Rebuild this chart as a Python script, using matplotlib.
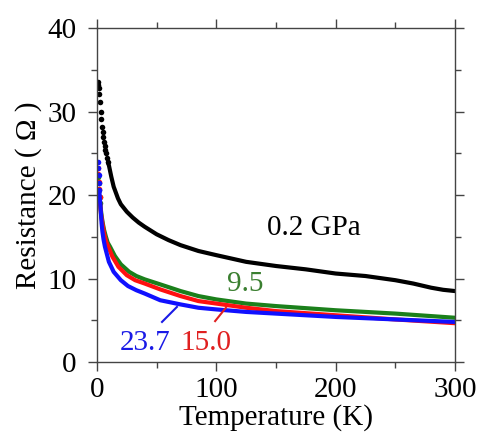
import numpy as np
import matplotlib
matplotlib.use("Agg")
import matplotlib.pyplot as plt
from matplotlib.ticker import MultipleLocator

plt.rcParams["font.family"] = ["Liberation Serif", "DejaVu Serif"]

# R(T) under pressure; steep low-T part is sparse dots, the rest a continuous trace
T_02 = [0.6, 1.1, 1.3, 1.7, 2.3, 3.1, 3.6, 4.2, 4.8, 5.3, 5.9, 6.5, 6.9, 7.5, 8.4, 9.2, 10.1,
        12, 14, 17.6, 20, 25, 30, 35, 40, 50, 60, 70, 85, 100, 125, 150, 175, 200, 225, 250,
        265, 280, 290, 300]
R_02 = [33.6, 33.2, 32.8, 32.1, 31.1, 30.0, 29.1, 28.2, 27.6, 27.0, 26.4, 25.9, 25.4, 25.0,
        24.4, 23.9, 23.5, 22.2, 21.0, 19.6, 18.9, 18.0, 17.3, 16.7, 16.2, 15.3, 14.6, 14.0,
        13.3, 12.8, 12.0, 11.5, 11.1, 10.6, 10.3, 9.8, 9.4, 8.9, 8.65, 8.5]

T_95 = [1.2, 1.5, 1.8, 2.2, 2.7, 3.3, 4.0, 4.9, 6, 7.5, 9, 11, 15, 20, 27, 33, 40, 53, 70,
        85, 100, 125, 150, 200, 250, 300]
R_95 = [22.2, 21.4, 20.6, 19.8, 19.0, 18.2, 17.4, 16.6, 15.8, 15.0, 14.3, 13.8, 12.7, 11.7,
        10.8, 10.3, 9.9, 9.3, 8.5, 7.9, 7.5, 7.0, 6.7, 6.2, 5.8, 5.3]

T_150 = [1.0, 1.2, 1.5, 1.8, 2.2, 2.7, 3.2, 3.9, 4.8, 6, 7.5, 9.5, 13, 18, 25, 32, 40, 53,
         70, 85, 100, 125, 150, 200, 250, 300]
R_150 = [23.2, 22.5, 21.6, 20.7, 19.8, 18.9, 18.0, 17.2, 16.4, 15.4, 14.5, 13.8, 12.6, 11.4,
         10.4, 9.8, 9.4, 8.7, 7.9, 7.3, 7.0, 6.5, 6.1, 5.6, 5.1, 4.65]

T_237 = [0.8, 1.0, 1.3, 1.6, 2.0, 2.4, 2.9, 3.4, 3.9, 4.6, 5.5, 6.7, 10, 14, 20, 26, 33, 40,
         53, 70, 85, 100, 125, 150, 200, 250, 300]
R_237 = [24.0, 23.2, 22.4, 21.5, 20.6, 19.6, 18.7, 17.6, 16.6, 15.6, 14.7, 13.8, 12.0, 10.8,
         9.8, 9.1, 8.6, 8.2, 7.4, 6.9, 6.5, 6.3, 6.0, 5.8, 5.4, 5.1, 4.8]

CURVES = [
    (T_02, R_02, "black", 16),
    (T_95, R_95, "#1b801b", 5),
    (T_150, R_150, "#ff1010", 5),
    (T_237, R_237, "#1010ff", 5),
]

fig = plt.figure(figsize=(4.8, 4.32), dpi=100)
ax = fig.add_axes([0.202, 0.162, 0.746, 0.773])

for T, R, c, n_dots in CURVES:
    T = np.asarray(T); R = np.asarray(R)
    ax.plot(T[:n_dots], R[:n_dots], "o", ms=4.0, color=c, mec="none")
    ax.plot(T[n_dots - 1:], R[n_dots - 1:], "-", lw=3.0, color=c, solid_capstyle="round")

ax.set_xlim(0, 300)
ax.set_ylim(0, 40)
ax.xaxis.set_major_locator(MultipleLocator(100))
ax.xaxis.set_minor_locator(MultipleLocator(50))
ax.yaxis.set_major_locator(MultipleLocator(10))
ax.yaxis.set_minor_locator(MultipleLocator(5))
ax.tick_params(which="both", direction="out", top=True, right=True, color="#444444",
               width=1.0, labelsize=21)
ax.tick_params(which="major", length=6.5)
ax.tick_params(which="minor", length=4.3)
ax.tick_params(axis="y", pad=8)
ax.tick_params(axis="x", pad=4)
for s in ax.spines.values():
    s.set_color("#444444")
    s.set_linewidth(1.0)

ax.set_xlabel("Temperature (K)", fontsize=21, labelpad=1)
ax.set_ylabel("Resistance ( \u03a9 )", fontsize=21, labelpad=4)

ax.text(182, 16.0, "0.2 GPa", fontsize=21, ha="center", va="center")
ax.text(124, 9.3, "9.5", fontsize=21, ha="center", va="center", color="#3a7f30")
ax.text(40, 2.3, "23.7", fontsize=21, ha="center", va="center", color="#1a1ae6")
ax.text(91, 2.3, "15.0", fontsize=21, ha="center", va="center", color="#e02020")
ax.plot([54.5, 67], [4.8, 6.6], color="#1a1ae6", lw=1.5)
ax.plot([99, 108], [4.9, 6.5], color="#e02020", lw=1.5)

fig.savefig("out.png", dpi=100)
